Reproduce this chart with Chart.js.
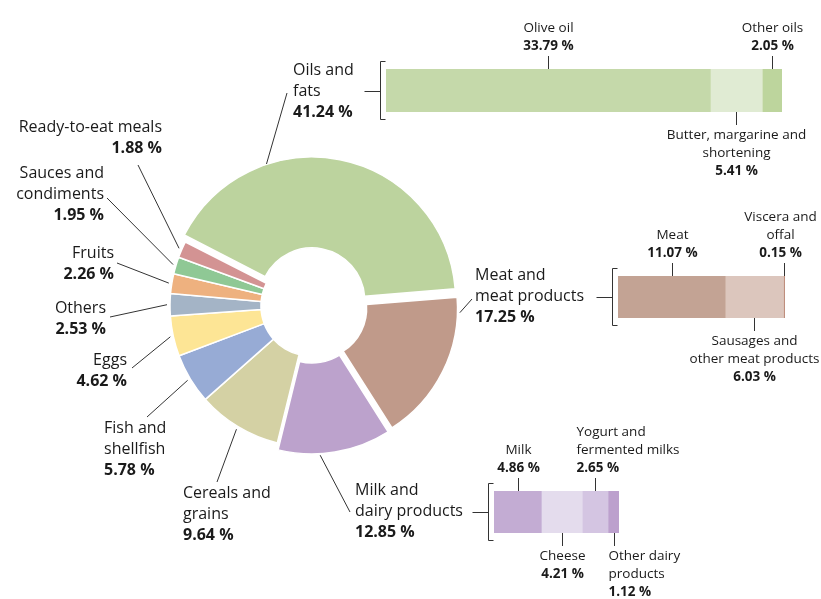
<!DOCTYPE html>
<html>
<head>
<meta charset="utf-8">
<script src="https://cdn.jsdelivr.net/npm/chart.js@4.4.0/dist/chart.umd.min.js"></script>
<style>
  html, body { margin: 0; padding: 0; background: #fff; }
  #wrap { position: relative; width: 821px; height: 599px; overflow: hidden; }
  #wrap canvas { position: absolute; }
</style>
</head>
<body>
<div id="wrap">
  <canvas id="pie" width="821" height="599" style="left:0;top:0"></canvas>
  <canvas id="barOils" width="461" height="200" style="left:360px;top:0"></canvas>
  <canvas id="barMeat" width="241" height="190" style="left:580px;top:200px"></canvas>
  <canvas id="barDairy" width="300" height="184" style="left:460px;top:415px"></canvas>
</div>
<script>
// ---- data ----
const categories = ["Oils and fats", "Meat and meat products", "Milk and dairy products", "Cereals and grains",
  "Fish and shellfish", "Eggs", "Others", "Fruits", "Sauces and condiments", "Ready-to-eat meals"];
const shares = [41.24, 17.25, 12.85, 9.64, 5.78, 4.62, 2.53, 2.26, 1.95, 1.88];
const exploded = [true, true, true, false, false, false, false, false, false, false];

const oilsParts = ["Olive oil", "Butter, margarine and shortening", "Other oils"];
const oilsValues = [33.79, 5.41, 2.05];
const meatParts = ["Meat", "Sausages and other meat products", "Viscera and offal"];
const meatValues = [11.07, 6.03, 0.15];
const dairyParts = ["Milk", "Cheese", "Yogurt and fermented milks", "Other dairy products"];
const dairyValues = [4.86, 4.21, 2.65, 1.12];

// ---- styles ----
const sliceColors = ["#bcd39e", "#c09a8a", "#bca2cc", "#d4d1a4", "#97abd5",
  "#fde595", "#a4b4c6", "#eeb17f", "#8fc895", "#d39393"];
const oilsColors = ["#c5d9aa", "#e0ebd3", "#bdd59d"];
const meatColors = ["#c3a394", "#dcc6bd", "#bf8e7d"];
const dairyColors = ["#c3acd3", "#e4dced", "#d4c5e2", "#bca0cd"];

const TEXT = "#1a1a1a";
const LINE = "#333";
const FONT = "'Open Sans', 'Noto Sans', sans-serif";
const pct = (v) => v.toFixed(2) + " %";

// label placement for the doughnut (lines, anchor, leader end, where on the slice the leader hits)
const pieLabels = [
  { lines: ["Oils and", "fats"], x: 293, y: 70, align: "left", end: [287, 93], frac: 0.30 },
  { lines: ["Meat and", "meat products"], x: 475, y: 275, align: "left", end: [472, 299], frac: 0.10 },
  { lines: ["Milk and", "dairy products"], x: 355, y: 490, align: "left", end: [350, 512], frac: 0.63 },
  { lines: ["Cereals and", "grains"], x: 183, y: 493, align: "left", end: [217, 482], frac: 0.5 },
  { lines: ["Fish and", "shellfish"], x: 104, y: 428, align: "left", end: [147, 417], frac: 0.5 },
  { lines: ["Eggs"], x: 127, y: 360, align: "right", end: [132, 368], frac: 0.5 },
  { lines: ["Others"], x: 106, y: 308, align: "right", end: [110, 317], frac: 0.5 },
  { lines: ["Fruits"], x: 114, y: 253, align: "right", end: [117, 263], frac: 0.5 },
  { lines: ["Sauces and", "condiments"], x: 104, y: 173, align: "right", end: [107, 198], frac: 0.5 },
  { lines: ["Ready-to-eat meals"], x: 162, y: 127, align: "right", end: [138, 165], frac: 0.5 }
];

const OFFSET = 22;

const pieLabelPlugin = {
  id: "pieLabels",
  afterDraw(chart){
    const ctx = chart.ctx;
    const meta = chart.getDatasetMeta(0);
    ctx.save();
    meta.data.forEach((arc, i) => {
      const L = pieLabels[i];
      const mid = (arc.startAngle + arc.endAngle) / 2;
      const shift = exploded[i] ? OFFSET / 4 : 0;
      const a = arc.startAngle + L.frac * (arc.endAngle - arc.startAngle);
      const r = arc.outerRadius + 3;
      const px = arc.x + Math.cos(mid) * shift + Math.cos(a) * r;
      const py = arc.y + Math.sin(mid) * shift + Math.sin(a) * r;

      ctx.strokeStyle = LINE;
      ctx.lineWidth = 1;
      ctx.beginPath();
      ctx.moveTo(px, py);
      ctx.lineTo(L.end[0], L.end[1]);
      ctx.stroke();

      ctx.fillStyle = TEXT;
      ctx.textAlign = L.align;
      ctx.textBaseline = "middle";
      ctx.font = "16px " + FONT;
      L.lines.forEach((t, k) => ctx.fillText(t, L.x, L.y + k * 21));
      ctx.font = "bold 16px " + FONT;
      ctx.fillText(pct(shares[i]), L.x, L.y + L.lines.length * 21);
    });
    ctx.restore();
  }
};

new Chart(document.getElementById("pie"), {
  type: "doughnut",
  data: {
    labels: categories,
    datasets: [{
      data: shares,
      backgroundColor: sliceColors,
      borderColor: "#fff",
      borderWidth: 1.5,
      offset: shares.map((v, i) => exploded[i] ? OFFSET : 0),
      hoverOffset: 0
    }]
  },
  options: {
    responsive: false,
    animation: false,
    devicePixelRatio: 1,
    events: [],
    rotation: -63,
    radius: 141,
    cutout: "35.5%",
    layout: { padding: { left: 0, right: 199, top: 13, bottom: 0 } },
    plugins: { legend: { display: false }, tooltip: { enabled: false } }
  },
  plugins: [pieLabelPlugin]
});

// ---- stacked breakdown bars ----
function makeBar(id, parts, values, colors, padding, notes){
  const total = values.reduce((s, v) => s + v, 0);
  const notesPlugin = {
    id: "notes",
    afterDraw(chart){
      const ctx = chart.ctx;
      const area = chart.chartArea;
      ctx.save();
      ctx.strokeStyle = LINE;
      ctx.lineWidth = 1;
      // bracket + stub
      const bx = area.left - 5.5;
      const midY = (area.top + area.bottom) / 2;
      ctx.beginPath();
      ctx.moveTo(bx + 5, area.top - 7.5);
      ctx.lineTo(bx, area.top - 7.5);
      ctx.lineTo(bx, area.bottom + 7.5);
      ctx.lineTo(bx + 5, area.bottom + 7.5);
      ctx.moveTo(bx - 16, Math.round(midY) + 0.5);
      ctx.lineTo(bx, Math.round(midY) + 0.5);
      ctx.stroke();

      parts.forEach((p, i) => {
        const el = chart.getDatasetMeta(i).data[0];
        const n = notes[i];
        const cx = Math.round((el.base + el.x) / 2) + 0.5;
        const top = el.y - el.height / 2;
        const bottom = el.y + el.height / 2;
        ctx.beginPath();
        let lineY0;
        if (n.side === "top"){
          ctx.moveTo(cx, top); ctx.lineTo(cx, top - 13);
          lineY0 = top - 23 - n.lines.length * 18;
        } else {
          ctx.moveTo(cx, bottom); ctx.lineTo(cx, bottom + 13);
          lineY0 = bottom + 23;
        }
        ctx.stroke();
        ctx.fillStyle = TEXT;
        ctx.textBaseline = "middle";
        ctx.textAlign = n.align;
        const tx = cx + (n.dx || 0);
        ctx.font = "13.5px " + FONT;
        n.lines.forEach((t, k) => ctx.fillText(t, tx, lineY0 + k * 18));
        ctx.font = "bold 13.5px " + FONT;
        ctx.fillText(pct(values[i]), tx, lineY0 + n.lines.length * 18);
      });
      ctx.restore();
    }
  };

  return new Chart(document.getElementById(id), {
    type: "bar",
    data: {
      labels: [""],
      datasets: parts.map((p, i) => ({
        label: p,
        data: [values[i]],
        backgroundColor: colors[i],
        borderWidth: 0,
        barPercentage: 1,
        categoryPercentage: 1,
        stack: "s"
      }))
    },
    options: {
      indexAxis: "y",
      responsive: false,
      animation: false,
      devicePixelRatio: 1,
      events: [],
      layout: { padding },
      scales: {
        x: { stacked: true, min: 0, max: total, display: false },
        y: { stacked: true, display: false }
      },
      plugins: { legend: { display: false }, tooltip: { enabled: false } }
    },
    plugins: [notesPlugin]
  });
}

makeBar("barOils", oilsParts, oilsValues, oilsColors,
  { left: 26, right: 39, top: 69, bottom: 88 },
  [
    { side: "top", align: "center", lines: ["Olive oil"] },
    { side: "bottom", align: "center", lines: ["Butter, margarine and", "shortening"] },
    { side: "top", align: "center", lines: ["Other oils"] }
  ]);

makeBar("barMeat", meatParts, meatValues, meatColors,
  { left: 38, right: 36, top: 76, bottom: 72 },
  [
    { side: "top", align: "center", lines: ["Meat"] },
    { side: "bottom", align: "center", lines: ["Sausages and", "other meat products"] },
    { side: "top", align: "center", dx: -4, lines: ["Viscera and", "offal"] }
  ]);

makeBar("barDairy", dairyParts, dairyValues, dairyColors,
  { left: 34, right: 141, top: 76, bottom: 66 },
  [
    { side: "top", align: "center", lines: ["Milk"] },
    { side: "bottom", align: "center", lines: ["Cheese"] },
    { side: "top", align: "left", dx: -19, lines: ["Yogurt and", "fermented milks"] },
    { side: "bottom", align: "left", dx: -6, lines: ["Other dairy", "products"] }
  ]);
</script>
</body>
</html>
